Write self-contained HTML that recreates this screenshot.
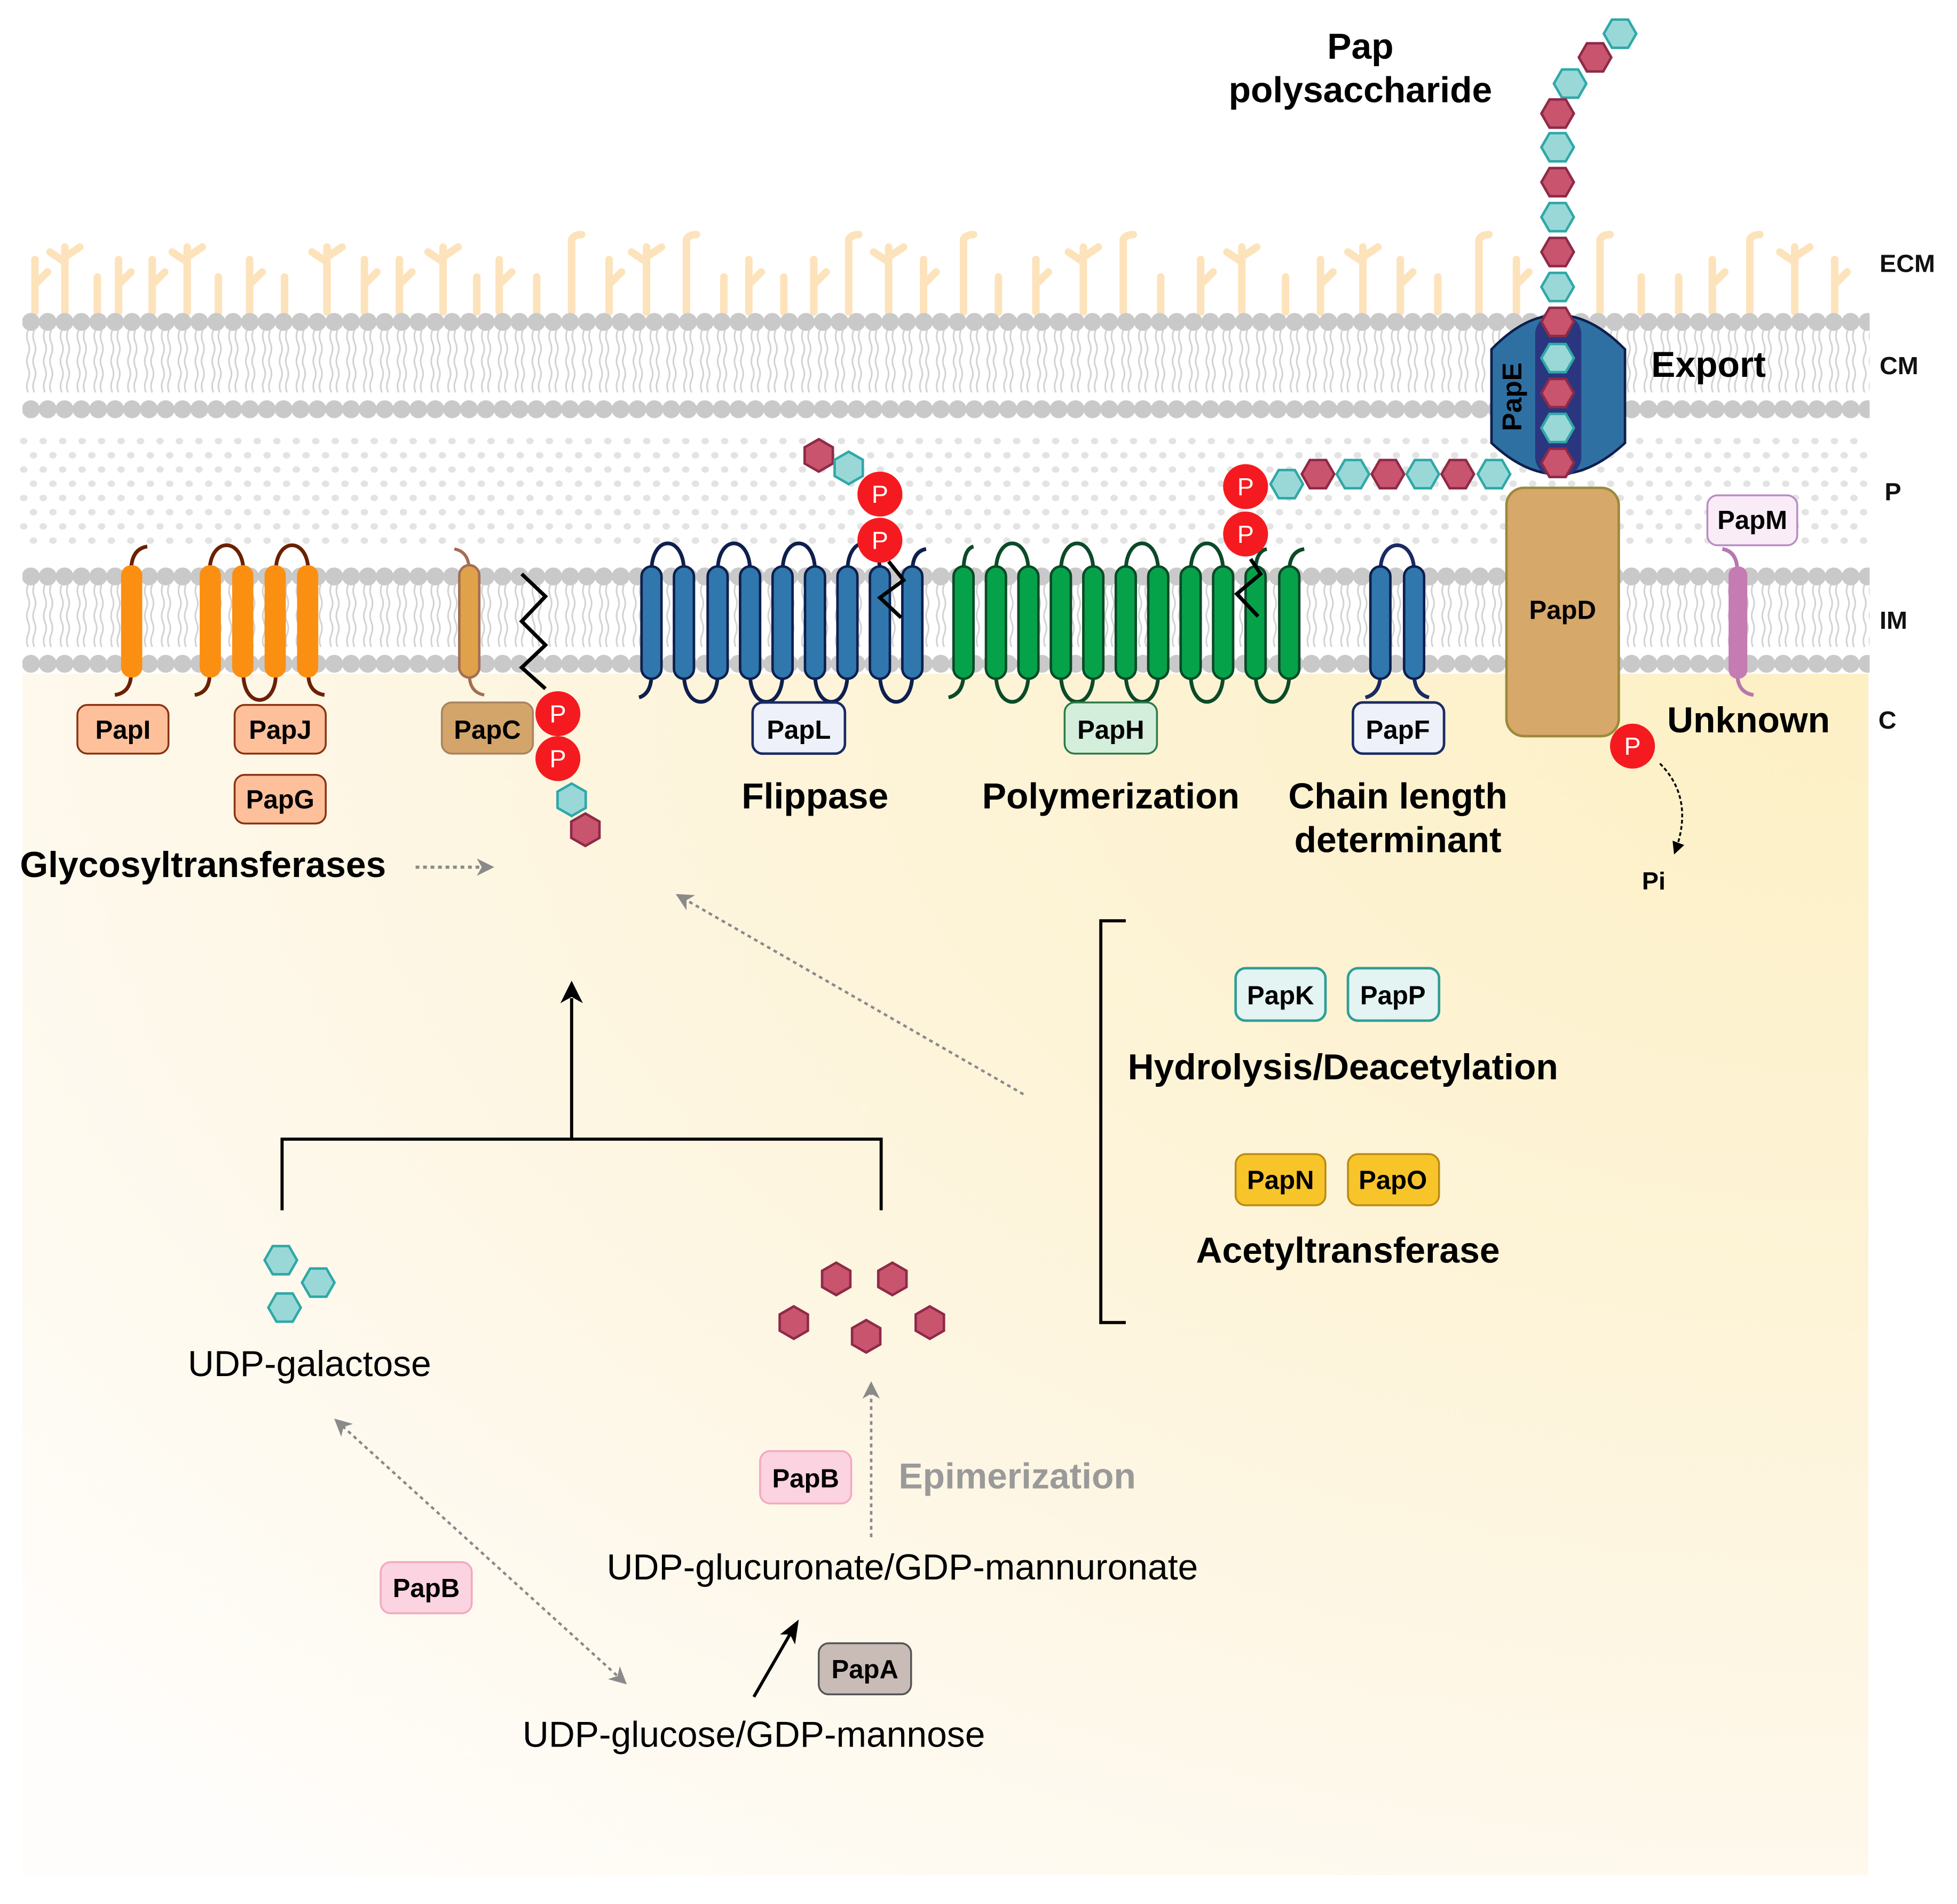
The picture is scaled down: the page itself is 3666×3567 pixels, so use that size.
<!DOCTYPE html>
<html><head><meta charset="utf-8"><style>
html,body{margin:0;padding:0;background:#fff}
svg{display:block}
text{font-family:"Liberation Sans",sans-serif}
.b{font-weight:bold}
</style></head><body>
<svg width="3666" height="3567" viewBox="0 0 1568 1526" preserveAspectRatio="none" xmlns="http://www.w3.org/2000/svg">
<defs>
<radialGradient id="cyt" cx="1" cy="0" r="1.3">
<stop offset="0" stop-color="#fdf0c4"/><stop offset="0.55" stop-color="#fdf5df"/><stop offset="1" stop-color="#fffdfb"/>
</radialGradient>
<pattern id="mem" patternUnits="userSpaceOnUse" x="18" y="250.5" width="13.5" height="85">
<path d="M4.5 14 q-2 5 0 10 q2 5 0 10 q-2 5 0 10 q2 5 0 10 q-2 5 0 10 M9.5 14 q-2 5 0 10 q2 5 0 10 q-2 5 0 10 q2 5 0 10 q-2 5 0 10" stroke="#d2d2d2" stroke-width="1.3" fill="none"/>
<circle cx="6.75" cy="7.5" r="7.2" fill="#c9c9c9"/><circle cx="6.75" cy="77.5" r="7.2" fill="#c9c9c9"/>
</pattern>
<pattern id="mem2" patternUnits="userSpaceOnUse" x="18" y="454.5" width="13.5" height="85">
<path d="M4.5 14 q-2 5 0 10 q2 5 0 10 q-2 5 0 10 q2 5 0 10 q-2 5 0 10 M9.5 14 q-2 5 0 10 q2 5 0 10 q-2 5 0 10 q2 5 0 10 q-2 5 0 10" stroke="#d2d2d2" stroke-width="1.3" fill="none"/>
<circle cx="6.75" cy="7.5" r="7.2" fill="#c9c9c9"/><circle cx="6.75" cy="77.5" r="7.2" fill="#c9c9c9"/>
</pattern>
<pattern id="dots" patternUnits="userSpaceOnUse" x="16" y="351" width="15.6" height="22.8">
<ellipse cx="3" cy="2.5" rx="3" ry="2.6" fill="#e3e3e3"/><ellipse cx="10.8" cy="13.9" rx="3" ry="2.6" fill="#e3e3e3"/>
</pattern>
<polygon id="hx" points="-13,0 -6.5,-11.3 6.5,-11.3 13,0 6.5,11.3 -6.5,11.3"/>
<polygon id="hy" points="0,-13 11.3,-6.5 11.3,6.5 0,13 -11.3,6.5 -11.3,-6.5"/>
<g id="gA" stroke="#fde3bb" stroke-width="6" stroke-linecap="round" fill="none"><path d="M0 0 V-42 M0 -22 L10 -32"/></g>
<g id="gB" stroke="#fde3bb" stroke-width="6" stroke-linecap="round" fill="none"><path d="M0 0 V-52 M0 -40 L-12 -48 M0 -44 L12 -52"/></g>
<g id="gC" stroke="#fde3bb" stroke-width="6" stroke-linecap="round" fill="none"><path d="M0 0 V-28"/></g>
<g id="gD" stroke="#fde3bb" stroke-width="6" stroke-linecap="round" fill="none"><path d="M0 0 V-58 Q2 -62 8 -62"/></g>
<marker id="ab" markerWidth="10" markerHeight="10" refX="8" refY="5" orient="auto" markerUnits="userSpaceOnUse"><path d="M0 0 L10 5 L0 10 Z" fill="#000"/></marker>
<marker id="ag" markerWidth="14" markerHeight="14" refX="11" refY="7" orient="auto-start-reverse" markerUnits="userSpaceOnUse"><path d="M0 0 L14 7 L0 14 L4 7 Z" fill="#8a8a8a"/></marker>
</defs>

<rect x="18" y="540" width="1479" height="963" fill="url(#cyt)"/>

<g transform="translate(0,250)">
<use href="#gA" x="28"/><use href="#gB" x="52"/><use href="#gC" x="78"/><use href="#gA" x="95"/><use href="#gA" x="122"/><use href="#gB" x="150"/><use href="#gC" x="175"/><use href="#gA" x="200"/><use href="#gC" x="228"/><use href="#gB" x="262"/><use href="#gA" x="292"/><use href="#gA" x="320"/><use href="#gB" x="355"/><use href="#gC" x="382"/><use href="#gA" x="400"/><use href="#gC" x="430"/><use href="#gD" x="458"/><use href="#gA" x="488"/><use href="#gB" x="518"/><use href="#gD" x="550"/><use href="#gC" x="580"/><use href="#gA" x="600"/><use href="#gC" x="628"/><use href="#gA" x="652"/><use href="#gD" x="680"/><use href="#gB" x="712"/><use href="#gA" x="740"/><use href="#gD" x="772"/><use href="#gC" x="800"/><use href="#gA" x="830"/><use href="#gB" x="868"/><use href="#gD" x="900"/><use href="#gC" x="930"/><use href="#gA" x="962"/><use href="#gB" x="995"/><use href="#gC" x="1030"/><use href="#gA" x="1058"/><use href="#gB" x="1092"/><use href="#gA" x="1122"/><use href="#gC" x="1152"/><use href="#gD" x="1185"/><use href="#gA" x="1215"/><use href="#gD" x="1282"/><use href="#gC" x="1315"/><use href="#gC" x="1345"/><use href="#gA" x="1372"/><use href="#gD" x="1402"/><use href="#gB" x="1438"/><use href="#gA" x="1470"/>
</g>

<rect x="18" y="250.5" width="1480" height="85" fill="url(#mem)"/>
<rect x="16" y="351" width="1482" height="88" fill="url(#dots)"/>
<rect x="18" y="454.5" width="1480" height="85" fill="url(#mem2)"/>

<g class="b" font-size="20" fill="#111">
<text x="1506" y="218">ECM</text><text x="1506" y="300">CM</text><text x="1510" y="401">P</text><text x="1506" y="504">IM</text><text x="1505" y="584">C</text>
</g>

<g fill="none" stroke="#6b2000" stroke-width="3">
<path d="M105 458 Q105 440 118 438"/><path d="M105 540 Q105 555 92 557"/>
<path d="M168 458 C168 430 195 430 195 458"/><path d="M221 458 C221 430 247 430 247 458"/>
<path d="M195 540 C195 568 221 568 221 540"/><path d="M168 540 Q168 555 156 557"/><path d="M247 540 Q247 555 260 557"/>
</g>
<g fill="#fb8f12">
<rect x="97" y="453" width="17" height="90" rx="8"/>
<rect x="160" y="453" width="17" height="90" rx="8"/><rect x="186" y="453" width="17" height="90" rx="8"/><rect x="212" y="453" width="17" height="90" rx="8"/><rect x="238" y="453" width="17" height="90" rx="8"/>
</g>
<g fill="none" stroke="#a46d55" stroke-width="2.5"><path d="M376 458 Q376 442 364 440"/><path d="M376 540 Q376 555 388 557"/></g>
<rect x="368" y="453" width="16" height="90" rx="8" fill="#dfa24a" stroke="#a46d55" stroke-width="2"/>
<polyline points="418,460 437,478 418,498 437,517 418,535 437,552" fill="none" stroke="#000" stroke-width="3"/>

<g class="b" font-size="21" text-anchor="middle">
<rect x="62" y="565" width="73" height="39" rx="8" fill="#fdc09a" stroke="#8a3212" stroke-width="1.5"/><text x="98.5" y="592">PapI</text>
<rect x="188" y="565" width="73" height="39" rx="8" fill="#fdc09a" stroke="#8a3212" stroke-width="1.5"/><text x="224.5" y="592">PapJ</text>
<rect x="188" y="621" width="73" height="39" rx="8" fill="#fdc09a" stroke="#8a3212" stroke-width="1.5"/><text x="224.5" y="648">PapG</text>
<rect x="354" y="563" width="73" height="41" rx="8" fill="#d4a56a" stroke="#a88262" stroke-width="1.5"/><text x="390.5" y="592">PapC</text>
</g>
<g font-size="20" fill="#fff" text-anchor="middle">
<circle cx="447" cy="572" r="18" fill="#f51a1f"/><text x="447" y="579">P</text>
<circle cx="447" cy="608" r="18" fill="#f51a1f"/><text x="447" y="615">P</text>
</g>
<use href="#hy" x="458" y="641" fill="#9ad8d8" stroke="#2fa8a8" stroke-width="2"/>
<use href="#hy" x="469" y="665" fill="#c9546e" stroke="#8e2a48" stroke-width="2"/>
<text x="16" y="703" class="b" font-size="29">Glycosyltransferases</text>
<line x1="333" y1="695" x2="393" y2="695" stroke="#8a8a8a" stroke-width="2.5" stroke-dasharray="3 3" marker-end="url(#ag)"/>

<g fill="none" stroke="#0e1f4d" stroke-width="3">
<path d="M522 458 C522 428 548 428 548 458"/><path d="M575 458 C575 428 601 428 601 458"/><path d="M627 458 C627 428 653 428 653 458"/><path d="M679 458 C679 428 705 428 705 458"/><path d="M731 458 Q731 442 742 440"/>
<path d="M548 540 C548 570 575 570 575 540"/><path d="M601 540 C601 570 627 570 627 540"/><path d="M653 540 C653 570 679 570 679 540"/><path d="M705 540 C705 570 731 570 731 540"/><path d="M522 540 Q522 556 512 559"/>
</g>
<g fill="#2f77ad" stroke="#0e1f4d" stroke-width="2">
<rect x="514" y="454" width="16" height="90" rx="8"/><rect x="540" y="454" width="16" height="90" rx="8"/><rect x="567" y="454" width="16" height="90" rx="8"/><rect x="593" y="454" width="16" height="90" rx="8"/><rect x="619" y="454" width="16" height="90" rx="8"/><rect x="645" y="454" width="16" height="90" rx="8"/><rect x="671" y="454" width="16" height="90" rx="8"/><rect x="697" y="454" width="16" height="90" rx="8"/><rect x="723" y="454" width="16" height="90" rx="8"/>
</g>
<polyline points="712,450 724,465 705,479 722,495" fill="none" stroke="#000" stroke-width="3"/>
<use href="#hy" x="656" y="365" fill="#c9546e" stroke="#8e2a48" stroke-width="2"/>
<use href="#hy" x="680" y="375" fill="#9ad8d8" stroke="#2fa8a8" stroke-width="2"/>
<g font-size="20" fill="#fff" text-anchor="middle">
<circle cx="705" cy="396" r="18" fill="#f51a1f"/><text x="705" y="403">P</text>
<circle cx="705" cy="433" r="18" fill="#f51a1f"/><text x="705" y="440">P</text>
</g>
<rect x="603" y="563" width="74" height="41" rx="8" fill="#eef1fa" stroke="#1a2a64" stroke-width="2"/>
<text x="640" y="592" class="b" font-size="21" text-anchor="middle">PapL</text>
<text x="653" y="648" class="b" font-size="29" text-anchor="middle">Flippase</text>

<g fill="none" stroke="#0b4a28" stroke-width="3">
<path d="M772 540 Q772 556 760 559"/>
<path d="M798 458 C798 428 824 428 824 458"/><path d="M850 458 C850 428 876 428 876 458"/><path d="M902 458 C902 428 928 428 928 458"/><path d="M954 458 C954 428 980 428 980 458"/><path d="M1006 458 Q1006 442 1015 440"/><path d="M1033 458 Q1033 442 1045 440"/><path d="M772 458 Q772 440 780 438"/>
<path d="M798 540 C798 570 824 570 824 540"/><path d="M850 540 C850 570 876 570 876 540"/><path d="M902 540 C902 570 928 570 928 540"/><path d="M954 540 C954 570 980 570 980 540"/><path d="M1006 540 C1006 570 1033 570 1033 540"/>
</g>
<g fill="#06a24a" stroke="#0b4a28" stroke-width="2">
<rect x="764" y="454" width="16" height="90" rx="8"/><rect x="790" y="454" width="16" height="90" rx="8"/><rect x="816" y="454" width="16" height="90" rx="8"/><rect x="842" y="454" width="16" height="90" rx="8"/><rect x="868" y="454" width="16" height="90" rx="8"/><rect x="894" y="454" width="16" height="90" rx="8"/><rect x="920" y="454" width="16" height="90" rx="8"/><rect x="946" y="454" width="16" height="90" rx="8"/><rect x="972" y="454" width="16" height="90" rx="8"/><rect x="998" y="454" width="16" height="90" rx="8"/><rect x="1025" y="454" width="16" height="90" rx="8"/>
</g>
<polyline points="1002,448 1010,460 991,476 1008,494" fill="none" stroke="#000" stroke-width="3"/>
<g font-size="20" fill="#fff" text-anchor="middle">
<circle cx="998" cy="390" r="18" fill="#f51a1f"/><text x="998" y="397">P</text>
<circle cx="998" cy="428" r="18" fill="#f51a1f"/><text x="998" y="435">P</text>
</g>
<use href="#hx" x="1031" y="388" fill="#9ad8d8" stroke="#2fa8a8" stroke-width="2"/>
<use href="#hx" x="1056" y="380" fill="#c9546e" stroke="#8e2a48" stroke-width="2"/>
<use href="#hx" x="1084" y="380" fill="#9ad8d8" stroke="#2fa8a8" stroke-width="2"/>
<use href="#hx" x="1112" y="380" fill="#c9546e" stroke="#8e2a48" stroke-width="2"/>
<use href="#hx" x="1140" y="380" fill="#9ad8d8" stroke="#2fa8a8" stroke-width="2"/>
<use href="#hx" x="1168" y="380" fill="#c9546e" stroke="#8e2a48" stroke-width="2"/>
<use href="#hx" x="1197" y="380" fill="#9ad8d8" stroke="#2fa8a8" stroke-width="2"/>
<rect x="853" y="563" width="74" height="41" rx="8" fill="#d4eedc" stroke="#2d7a48" stroke-width="1.5"/>
<text x="890" y="592" class="b" font-size="21" text-anchor="middle">PapH</text>
<text x="890" y="648" class="b" font-size="29" text-anchor="middle">Polymerization</text>

<g fill="none" stroke="#1a2a64" stroke-width="3">
<path d="M1106 458 C1106 430 1133 430 1133 458"/><path d="M1106 540 Q1106 556 1094 559"/><path d="M1133 540 Q1133 556 1145 559"/>
</g>
<g fill="#2f77ad" stroke="#0e1f4d" stroke-width="2"><rect x="1098" y="454" width="16" height="90" rx="8"/><rect x="1125" y="454" width="16" height="90" rx="8"/></g>
<rect x="1084" y="563" width="73" height="41" rx="8" fill="#eef1fa" stroke="#1a2a64" stroke-width="2"/>
<text x="1120" y="592" class="b" font-size="21" text-anchor="middle">PapF</text>
<text x="1120" y="648" class="b" font-size="29" text-anchor="middle">Chain length</text>
<text x="1120" y="683" class="b" font-size="29" text-anchor="middle">determinant</text>

<rect x="1207" y="391" width="90" height="199" rx="14" fill="#d6a86a" stroke="#9b8a3a" stroke-width="2"/>
<text x="1252" y="496" class="b" font-size="21" text-anchor="middle">PapD</text>
<path d="M1195 280 Q1248 225 1302 280 L1302 355 Q1248 405 1195 355 Z" fill="#2f70a3" stroke="#0e1f4d" stroke-width="2"/>
<rect x="1230" y="252" width="37" height="130" rx="16" fill="#2a3680"/>
<text transform="translate(1219,318) rotate(-90)" class="b" font-size="22" text-anchor="middle">PapE</text>
<g stroke-width="2">
<use href="#hx" x="1298" y="27" fill="#9ad8d8" stroke="#2fa8a8"/>
<use href="#hx" x="1278" y="46" fill="#c9546e" stroke="#8e2a48"/>
<use href="#hx" x="1258" y="67" fill="#9ad8d8" stroke="#2fa8a8"/>
<use href="#hx" x="1248" y="91" fill="#c9546e" stroke="#8e2a48"/>
<use href="#hx" x="1248" y="118" fill="#9ad8d8" stroke="#2fa8a8"/>
<use href="#hx" x="1248" y="146" fill="#c9546e" stroke="#8e2a48"/>
<use href="#hx" x="1248" y="174" fill="#9ad8d8" stroke="#2fa8a8"/>
<use href="#hx" x="1248" y="202" fill="#c9546e" stroke="#8e2a48"/>
<use href="#hx" x="1248" y="230" fill="#9ad8d8" stroke="#2fa8a8"/>
<use href="#hx" x="1248" y="258" fill="#c9546e" stroke="#8e2a48"/>
<use href="#hx" x="1248" y="287" fill="#9ad8d8" stroke="#2fa8a8"/>
<use href="#hx" x="1248" y="315" fill="#c9546e" stroke="#8e2a48"/>
<use href="#hx" x="1248" y="343" fill="#9ad8d8" stroke="#2fa8a8"/>
<use href="#hx" x="1248" y="371" fill="#c9546e" stroke="#8e2a48"/>
</g>
<text x="1090" y="47" class="b" font-size="29" text-anchor="middle">Pap</text>
<text x="1090" y="82" class="b" font-size="29" text-anchor="middle">polysaccharide</text>
<text x="1323" y="302" class="b" font-size="29">Export</text>

<g fill="none" stroke="#b777b0" stroke-width="3"><path d="M1392 458 Q1392 442 1380 440"/><path d="M1392 540 Q1392 555 1405 557"/></g>
<rect x="1385" y="454" width="15" height="90" rx="7" fill="#c47cb2"/>
<rect x="1368" y="397" width="72" height="40" rx="8" fill="#f9ecf6" stroke="#b88cc4" stroke-width="1.5"/>
<text x="1404" y="424" class="b" font-size="21" text-anchor="middle">PapM</text>
<text x="1401" y="587" class="b" font-size="29" text-anchor="middle">Unknown</text>
<circle cx="1308" cy="598" r="18" fill="#f51a1f"/><text x="1308" y="605" font-size="20" fill="#fff" text-anchor="middle">P</text>
<path d="M1330 612 Q1358 640 1342 683" fill="none" stroke="#000" stroke-width="1.5" stroke-dasharray="3 2" marker-end="url(#ab)"/>
<text x="1325" y="713" class="b" font-size="20" text-anchor="middle">Pi</text>

<path d="M902 738 H882 V1060 H902" fill="none" stroke="#000" stroke-width="2.5"/>
<g class="b" font-size="21" text-anchor="middle">
<rect x="990" y="776" width="72" height="42" rx="8" fill="#e3f4f3" stroke="#2f9e96" stroke-width="2"/><text x="1026" y="805">PapK</text>
<rect x="1080" y="776" width="73" height="42" rx="8" fill="#e3f4f3" stroke="#2f9e96" stroke-width="2"/><text x="1116" y="805">PapP</text>
<rect x="990" y="925" width="72" height="41" rx="8" fill="#f7c429" stroke="#b98a14" stroke-width="1.5"/><text x="1026" y="953">PapN</text>
<rect x="1080" y="925" width="73" height="41" rx="8" fill="#f7c429" stroke="#b98a14" stroke-width="1.5"/><text x="1116" y="953">PapO</text>
</g>
<text x="1076" y="865" class="b" font-size="29" text-anchor="middle">Hydrolysis/Deacetylation</text>
<text x="1080" y="1012" class="b" font-size="29" text-anchor="middle">Acetyltransferase</text>
<line x1="820" y1="877" x2="544" y2="718" stroke="#8a8a8a" stroke-width="2" stroke-dasharray="3 3" marker-end="url(#ag)"/>

<path d="M226 970 V913 H706 V970 M458 913 V800" fill="none" stroke="#000" stroke-width="2.5"/>
<path d="M458 786 L449 804 L458 799 L467 804 Z" fill="#000"/>
<g stroke-width="2">
<use href="#hx" x="225" y="1010" fill="#9ad8d8" stroke="#2fa8a8"/>
<use href="#hx" x="255" y="1028" fill="#9ad8d8" stroke="#2fa8a8"/>
<use href="#hx" x="228" y="1048" fill="#9ad8d8" stroke="#2fa8a8"/>
<use href="#hy" x="670" y="1025" fill="#c9546e" stroke="#8e2a48"/>
<use href="#hy" x="715" y="1025" fill="#c9546e" stroke="#8e2a48"/>
<use href="#hy" x="636" y="1060" fill="#c9546e" stroke="#8e2a48"/>
<use href="#hy" x="694" y="1071" fill="#c9546e" stroke="#8e2a48"/>
<use href="#hy" x="745" y="1060" fill="#c9546e" stroke="#8e2a48"/>
</g>
<text x="248" y="1103" font-size="29" text-anchor="middle">UDP-galactose</text>
<line x1="698" y1="1232" x2="698" y2="1110" stroke="#8a8a8a" stroke-width="2" stroke-dasharray="3 3" marker-end="url(#ag)"/>
<text x="720" y="1193" class="b" font-size="29" fill="#9a9a9a">Epimerization</text>
<g class="b" font-size="21" text-anchor="middle">
<rect x="609" y="1163" width="73" height="42" rx="8" fill="#fcd3e0" stroke="#f2a9c0" stroke-width="1.5"/><text x="645.5" y="1192">PapB</text>
<rect x="305" y="1252" width="73" height="41" rx="8" fill="#fcd3e0" stroke="#f2a9c0" stroke-width="1.5"/><text x="341.5" y="1280">PapB</text>
<rect x="656" y="1317" width="74" height="41" rx="8" fill="#c9bcb7" stroke="#555" stroke-width="1.5"/><text x="693" y="1345">PapA</text>
</g>
<text x="723" y="1266" font-size="29" text-anchor="middle">UDP-glucuronate/GDP-mannuronate</text>
<line x1="270" y1="1139" x2="500" y2="1348" stroke="#8a8a8a" stroke-width="2" stroke-dasharray="3 3" marker-start="url(#ag)" marker-end="url(#ag)"/>
<line x1="604" y1="1360" x2="634" y2="1308" stroke="#000" stroke-width="2.5"/>
<path d="M640 1298 L625 1310 L633 1310 L637 1318 Z" fill="#000"/>
<text x="604" y="1400" font-size="29" text-anchor="middle">UDP-glucose/GDP-mannose</text>
</svg>
</body></html>
